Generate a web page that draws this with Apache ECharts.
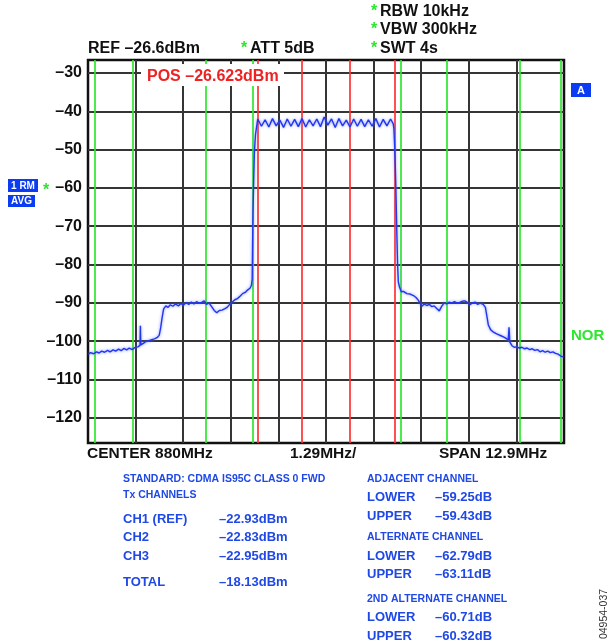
<!DOCTYPE html>
<html>
<head>
<meta charset="utf-8">
<script src="https://cdn.jsdelivr.net/npm/echarts@6/dist/echarts.min.js"></script>
<style>
  html, body { margin: 0; padding: 0; background: #fff; }
  #chart { width: 608px; height: 643px; }
</style>
</head>
<body>
<div id="chart"></div>
<script>
// Spectrum analyser screen: CDMA IS-95 3-carrier forward link, ACP measurement
const CENTER_MHZ = 880;
const SPAN_MHZ = 12.9;
const DIV_MHZ = 1.29;
const REF_DBM = -26.6;
const RANGE_DB = 100;

// level gridlines (dBm)
const levelTicks = [-30, -40, -50, -60, -70, -80, -90, -100, -110, -120];
// frequency divisions, in units of DIV_MHZ from centre
const freqDivisions = [-4, -3, -2, -1, 0, 1, 2, 3, 4];

// Tx channel limits (red) and adjacent/alternate channel limits (green), MHz offset from centre
const txChannelEdges = [-1.86, -0.66, 0.65, 1.85];
const adjChannelEdges = [-6.26, -5.25, -3.27, -1.98, 2.03, 3.26, 5.26, 6.35];

// RMS-averaged trace: frequency offset (MHz) and level (dBm)
const traceOffsetMHz = [
  -6.44, -6.38, -6.30, -6.22, -6.15, -6.08, -6.00, -5.92, -5.85, -5.77,
  -5.70, -5.62, -5.55, -5.48, -5.40, -5.33, -5.25, -5.18, -5.10, -5.04,
  -5.03, -5.02, -4.95, -4.88, -4.80, -4.72, -4.65, -4.58, -4.52, -4.48,
  -4.44, -4.40, -4.34, -4.28, -4.22, -4.15, -4.08, -4.00, -3.93, -3.86,
  -3.79, -3.72, -3.65, -3.58, -3.51, -3.44, -3.37, -3.30, -3.24, -3.17,
  -3.10, -3.03, -2.96, -2.89, -2.82, -2.75, -2.68, -2.61, -2.54, -2.47,
  -2.40, -2.33, -2.26, -2.19, -2.12, -2.06, -2.02, -2.00, -1.99, -1.98,
  -1.96, -1.94, -1.91, -1.88,
  -1.85, -1.75, -1.65, -1.55, -1.45, -1.35, -1.25, -1.15, -1.05, -0.95,
  -0.85, -0.75, -0.65, -0.55, -0.45, -0.35, -0.25, -0.15, -0.05, 0.05,
  0.15, 0.25, 0.35, 0.45, 0.55, 0.65, 0.75, 0.85, 0.95, 1.05,
  1.15, 1.25, 1.35, 1.45, 1.55, 1.65, 1.75, 1.82,
  1.84, 1.86, 1.88, 1.90, 1.92, 1.94, 1.96, 1.99, 2.04, 2.10,
  2.19, 2.28, 2.37, 2.44, 2.50, 2.56, 2.60, 2.66, 2.73, 2.80,
  2.87, 2.93, 3.00, 3.07, 3.13, 3.20, 3.27, 3.34, 3.41, 3.48,
  3.55, 3.62, 3.69, 3.76, 3.83, 3.90, 3.97, 4.04, 4.11, 4.18,
  4.26, 4.32, 4.36, 4.40, 4.46, 4.53, 4.60, 4.67, 4.74, 4.81,
  4.88, 4.94, 4.96, 4.98, 5.04, 5.10, 5.17, 5.24, 5.31, 5.38,
  5.45, 5.52, 5.59, 5.66, 5.73, 5.80, 5.87, 5.94, 6.01, 6.08,
  6.15, 6.22, 6.29, 6.36, 6.43
];
const traceLevelDbm = [
  -103.4, -103.0, -103.3, -102.8, -103.1, -102.6, -102.9, -102.4, -102.8, -102.3,
  -102.6, -102.1, -102.5, -101.9, -102.3, -101.8, -102.2, -101.7, -101.5, -101.1,
  -96.0, -101.0, -100.6, -100.1, -99.9, -99.6, -99.4, -99.1, -98.5, -96.5,
  -93.8, -91.6, -90.8, -91.2, -90.5, -90.9, -90.3, -90.8, -90.2, -90.6,
  -89.9, -90.4, -89.8, -90.3, -89.7, -90.1, -89.9, -89.5, -90.4, -90.0,
  -91.0, -92.0, -92.6, -92.0, -91.9, -91.6, -91.2, -90.4, -89.8, -89.2,
  -88.9, -88.3, -87.6, -87.3, -86.6, -86.2, -85.4, -83.8, -75.0, -67.0,
  -58.0, -50.5, -46.0, -44.0,
  -42.0, -43.9, -42.2, -44.1, -41.9, -43.8, -42.3, -44.2, -42.0, -43.9,
  -42.1, -44.0, -41.9, -44.1, -42.2, -43.8, -42.0, -44.0, -41.5, -43.6,
  -42.0, -44.2, -41.9, -43.8, -42.3, -44.1, -42.0, -43.9, -42.1, -44.0,
  -42.2, -43.9, -41.9, -44.1, -42.1, -43.8, -42.0, -43.2,
  -44.5, -49.0, -55.0, -63.0, -72.0, -80.0, -84.5, -85.8, -87.1, -87.0,
  -87.6, -87.7, -88.1, -88.6, -89.3, -90.3, -90.9, -90.3, -90.7, -90.4,
  -91.0, -90.8, -91.5, -92.1, -91.0, -90.0, -90.3, -89.8, -90.1, -89.7,
  -90.0, -89.9, -89.6, -89.5, -89.9, -90.5, -90.0, -89.8, -90.4, -90.1,
  -90.4, -91.2, -93.5, -95.8, -97.0, -97.6, -98.0, -98.3, -98.6, -98.9,
  -99.3, -99.7, -96.4, -100.2, -101.2, -101.6, -101.5, -101.8, -101.6, -102.0,
  -101.8, -102.2, -102.0, -102.4, -102.2, -102.8, -102.5, -102.9, -102.6, -103.0,
  -102.8, -103.2, -103.4, -103.9, -104.1
];

const FONT = '"Liberation Sans", Arial, Helvetica, sans-serif';
const BLUE_TXT = '#1f48e6';
const GREEN = '#2ee62e';
const RED = '#ff3333';
const dash = v => (v < 0 ? '\u2013' + Math.abs(v) : String(v));

const traceData = traceOffsetMHz.map((f, i) => [CENTER_MHZ + f, traceLevelDbm[i]]);

const gridLines = [
  ...levelTicks.map(v => ({ yAxis: v })),
  ...freqDivisions.map(k => ({ xAxis: CENTER_MHZ + k * DIV_MHZ }))
];
const channelLines = [
  ...adjChannelEdges.map(f => ({ xAxis: CENTER_MHZ + f, lineStyle: { color: GREEN } })),
  ...txChannelEdges.map(f => ({ xAxis: CENTER_MHZ + f, lineStyle: { color: RED } }))
];

function txt(x, y, text, opts) {
  return Object.assign({
    type: 'text', x, y, z: 100,
    style: Object.assign({
      text, fill: '#111', font: 'bold 16px ' + FONT,
      textAlign: 'left', textVerticalAlign: 'middle'
    }, opts || {})
  });
}
function badge(x, y, w, h, text, fontSize) {
  return {
    type: 'group', z: 100,
    children: [
      { type: 'rect', shape: { x, y, width: w, height: h }, style: { fill: '#0b3cf2' }, z: 100 },
      { type: 'text', x: x + w / 2, y: y + h / 2 + 0.5, z: 101,
        style: { text, fill: '#fff', font: 'bold ' + fontSize + 'px ' + FONT, textAlign: 'center', textVerticalAlign: 'middle' } }
    ]
  };
}

const tableLeft = [
  ['STANDARD: CDMA IS95C CLASS 0 FWD', null, 479, 10.5],
  ['Tx CHANNELS', null, 495, 10.5],
  ['CH1 (REF)', '\u201322.93dBm', 519, 13],
  ['CH2', '\u201322.83dBm', 537, 13],
  ['CH3', '\u201322.95dBm', 556, 13],
  ['TOTAL', '\u201318.13dBm', 582.5, 13]
];
const tableRight = [
  ['ADJACENT CHANNEL', null, 479.5, 10.5],
  ['LOWER', '\u201359.25dB', 497.5, 13],
  ['UPPER', '\u201359.43dB', 516, 13],
  ['ALTERNATE CHANNEL', null, 537.5, 10.5],
  ['LOWER', '\u201362.79dB', 556, 13],
  ['UPPER', '\u201363.11dB', 574.5, 13],
  ['2ND ALTERNATE CHANNEL', null, 599.5, 10.5],
  ['LOWER', '\u201360.71dB', 617, 13],
  ['UPPER', '\u201360.32dB', 636.5, 13]
];
const tableGraphics = [];
tableLeft.forEach(([a, b, y, fs]) => {
  tableGraphics.push(txt(123, y, a, { fill: BLUE_TXT, font: 'bold ' + fs + 'px ' + FONT }));
  if (b) tableGraphics.push(txt(219, y, b, { fill: BLUE_TXT, font: 'bold ' + fs + 'px ' + FONT }));
});
tableRight.forEach(([a, b, y, fs]) => {
  tableGraphics.push(txt(367, y, a, { fill: BLUE_TXT, font: 'bold ' + fs + 'px ' + FONT }));
  if (b) tableGraphics.push(txt(435, y, b, { fill: BLUE_TXT, font: 'bold ' + fs + 'px ' + FONT }));
});

const chart = echarts.init(document.getElementById('chart'), null, { renderer: 'canvas' });
chart.setOption({
  animation: false,
  backgroundColor: '#fff',
  grid: {
    left: 88, right: 44, top: 60, bottom: 200,
    show: true, borderColor: '#111', borderWidth: 2.5, backgroundColor: 'transparent'
  },
  xAxis: {
    type: 'value',
    min: CENTER_MHZ - SPAN_MHZ / 2, max: CENTER_MHZ + SPAN_MHZ / 2,
    axisLine: { show: false }, axisTick: { show: false },
    axisLabel: { show: false }, splitLine: { show: false }
  },
  yAxis: {
    type: 'value',
    min: REF_DBM - RANGE_DB, max: REF_DBM,
    axisLine: { show: false }, axisTick: { show: false },
    splitLine: { show: false },
    axisLabel: {
      customValues: levelTicks,
      formatter: v => dash(Math.round(v)),
      color: '#111', fontSize: 16, fontWeight: 'bold', fontFamily: FONT, margin: 6
    }
  },
  series: [
    {
      name: 'grid', type: 'line', data: [], silent: true, z: 1,
      markLine: {
        silent: true, symbol: 'none', animation: false,
        label: { show: false },
        lineStyle: { color: '#353535', width: 2, type: 'solid' },
        data: gridLines
      }
    },
    {
      name: 'channels', type: 'line', data: [], silent: true, z: 2,
      markLine: {
        silent: true, symbol: 'none', animation: false,
        label: { show: false },
        lineStyle: { width: 1.7, type: 'solid' },
        data: channelLines
      }
    },
    {
      name: '1 RM AVG', type: 'line', data: traceData, z: 5,
      showSymbol: false, symbol: 'none', smooth: false,
      lineStyle: {
        color: '#2236ee', width: 1.4,
        shadowColor: 'rgba(90,110,255,0.8)', shadowBlur: 3
      }
    }
  ],
  graphic: [
    // header
    txt(88, 49, 'REF \u201326.6dBm'),
    txt(241, 49, '*', { fill: GREEN }),
    txt(250, 49, 'ATT 5dB'),
    txt(371, 12, '*', { fill: GREEN }),
    txt(380, 12, 'RBW 10kHz'),
    txt(371, 30, '*', { fill: GREEN }),
    txt(380, 30, 'VBW 300kHz'),
    txt(371, 49, '*', { fill: GREEN }),
    txt(380, 49, 'SWT 4s'),
    // marker readout
    {
      type: 'rect', z: 99, shape: { x: 141, y: 64, width: 143, height: 22 },
      style: { fill: '#fff' }
    },
    txt(147, 77, 'POS \u201326.623dBm', { fill: '#ee2222' }),
    // side annotations
    badge(571, 83, 20, 14, 'A', 11),
    badge(8, 179, 30, 13, '1 RM', 10),
    badge(8, 195, 27, 12, 'AVG', 10),
    txt(43, 191, '*', { fill: GREEN }),
    txt(571, 335.5, 'NOR', { fill: GREEN, font: 'bold 15px ' + FONT }),
    // frequency annotations
    txt(87, 454, 'CENTER 880MHz', { font: 'bold 15.5px ' + FONT }),
    txt(290, 454, '1.29MHz/', { font: 'bold 15.5px ' + FONT }),
    txt(439, 454, 'SPAN 12.9MHz', { font: 'bold 15.5px ' + FONT }),
    // figure number
    {
      type: 'text', x: 604, y: 614, rotation: Math.PI / 2, z: 100,
      style: { text: '04954-037', fill: '#333', font: '10.5px ' + FONT, textAlign: 'center', textVerticalAlign: 'middle' }
    },
    ...tableGraphics
  ]
});
</script>
</body>
</html>
